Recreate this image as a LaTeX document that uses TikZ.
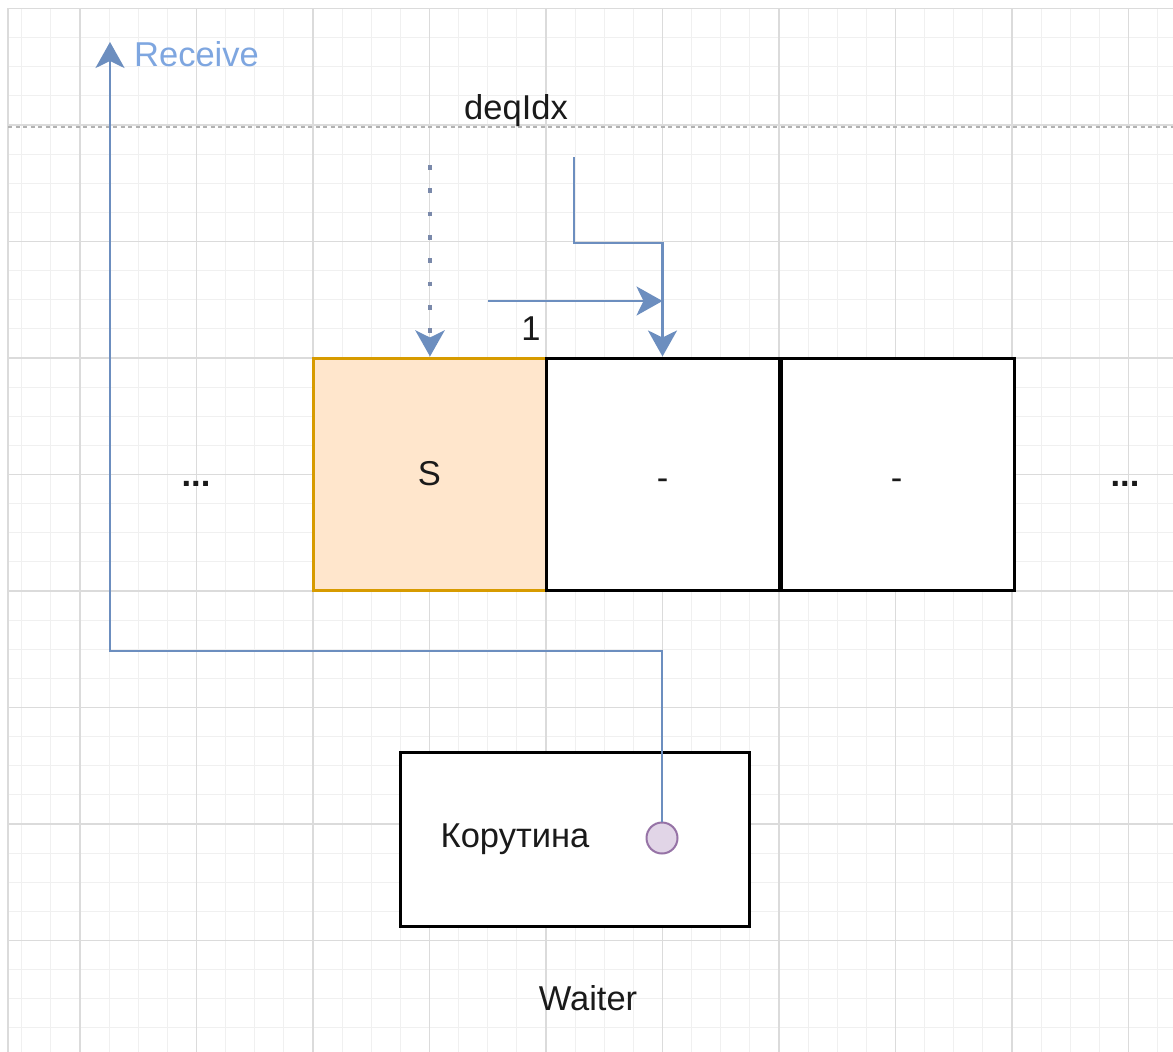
\documentclass[tikz,border=0pt]{standalone}
\usepackage{fontspec}
\setmainfont{Liberation Sans}
\usetikzlibrary{arrows.meta}
\definecolor{arrowblue}{HTML}{6C8EBF}
\definecolor{dotblue}{HTML}{7A89AA}
\definecolor{recvblue}{HTML}{7EA6E0}
\definecolor{sfill}{HTML}{FFE6CC}
\definecolor{sdraw}{HTML}{D79B00}
\definecolor{cfill}{HTML}{E1D5E7}
\definecolor{cdraw}{HTML}{9673A6}
\definecolor{ink}{HTML}{1A1A1A}
\begin{document}
\begin{tikzpicture}[x=1pt,y=-1pt,
  minorgrid/.style={draw=black!6,line width=1.2},
  majorgrid/.style={draw=black!14,line width=1.4},
  txt/.style={inner sep=0pt,text=ink,font=\fontsize{34.5}{40}\selectfont},
  cell/.style={draw=black,line width=3,minimum width=233,minimum height=232,inner sep=0pt,text=ink,font=\fontsize{34.5}{40}\selectfont},
  conn/.style={draw=arrowblue,line width=2.8,-{Stealth[length=26,width=29,inset=7]}},
  dotconn/.style={draw=dotblue,line width=4.8,dash pattern=on 4.8 off 18.5,-{Stealth[length=26,width=29,inset=7,color=arrowblue]}},
]
\useasboundingbox (0,0) rectangle (1173,1052);
\fill[white] (0,0) rectangle (1173,1052);
% grid
\foreach \i in {0,...,39} { \draw[minorgrid] ({21.75+29.125*\i},8) -- ({21.75+29.125*\i},1052); }
\foreach \i in {0,...,35} { \draw[minorgrid] (8,{8.5+29.125*\i}) -- (1173,{8.5+29.125*\i}); }
\foreach \k in {0,...,9} { \draw[majorgrid] ({80+116.5*\k},8) -- ({80+116.5*\k},1052); }
\foreach \k in {0,...,8} { \draw[majorgrid] (8,{8.5+116.5*\k}) -- (1173,{8.5+116.5*\k}); }
\draw[majorgrid] (8,8) -- (8,1052);
% dashed separator
\draw[draw=black!30,line width=1.6,dash pattern=on 4 off 3.5] (8,127) -- (1173,127);

% cells
\node[cell,fill=sfill,draw=sdraw] (s) at (429.5,474) {S};
\node[cell,fill=white] (c2) at (662.5,474) {};
\node[cell,fill=white] (c3) at (897.5,474) {};
\node[txt,anchor=base] (c2t) at (662.5,489) {-};
\node[txt,anchor=base] (c3t) at (896.5,489) {-};
\node[txt,font=\bfseries\fontsize{34.5}{40}\selectfont] (ldots) at (196,484) {...};
\node[txt,font=\bfseries\fontsize{34.5}{40}\selectfont] (rdots) at (1125,484) {...};

% labels
\node[txt] (deq) at (516,111) {deqIdx};
\node[txt] (one) at (531,329) {1};
\node[txt,text=recvblue,anchor=west] (recv) at (134,54) {Receive};

% waiter
\node[draw=black,line width=3,fill=white,minimum width=349,minimum height=174,inner sep=0pt] (waiter) at (574.5,839) {};
\node[txt] (coro) at (515,839) {Корутина};
\node[circle,draw=cdraw,fill=cfill,line width=2,minimum size=31,inner sep=0pt] (dot) at (662,838) {};
\node[txt] (wlabel) at (588,998) {Waiter};

% connectors
\coordinate (dotstart) at (430,165);
\draw[dotconn] (dotstart) -- (dotstart |- s.north);
\coordinate (elbstart) at (574,157);
\coordinate (elbow) at (662.5,243);
\draw[conn] (elbstart) |- (elbow) -- (c2.north);
\coordinate (hstart) at (488,301);
\draw[conn] (hstart) -- (hstart -| c2.north);
\coordinate (bend) at (110,651);
\coordinate (recvtip) at (110,42);
\draw[conn] (dot.north) |- (bend) -- (recvtip);
\end{tikzpicture}
\end{document}
